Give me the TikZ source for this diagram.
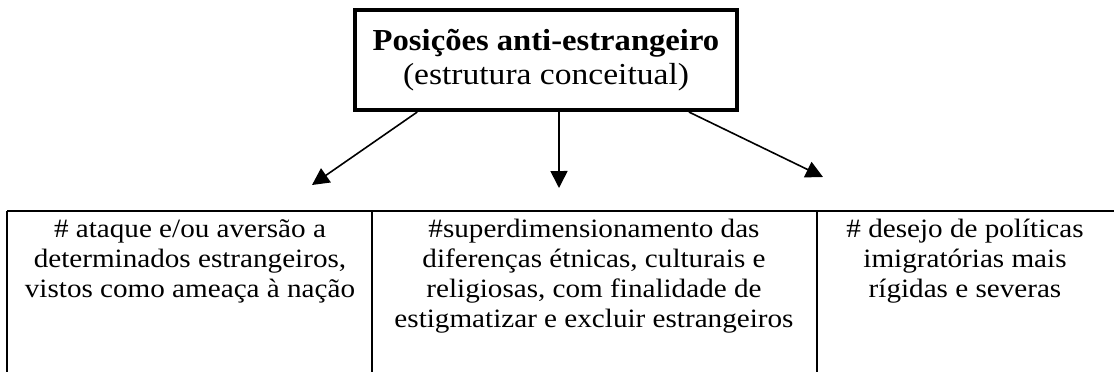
\documentclass[tikz,border=0pt]{standalone}
\usepackage{fontspec}
\setmainfont{Liberation Serif}[FakeStretch=1.1, BoldFeatures={FakeStretch=1.07}]
\usepackage{tikz}
\usetikzlibrary{shapes, arrows.meta}
\tikzstyle{titlebox} = [rectangle, draw, line width=4pt, minimum width=382pt, minimum height=100pt, align=center, inner sep=0pt, font=\fontsize{30.5}{34}\selectfont]
\tikzstyle{cell} = [align=center, inner sep=0pt, anchor=north]
\tikzstyle{line} = [draw, line width=1.6pt, -{Triangle[length=17pt, width=17pt]}]
\tikzstyle{rule} = [draw, line width=2.2pt]

\begin{document}
\begin{tikzpicture}[x=1pt, y=-1pt, font=\fontsize{26.5}{30}\selectfont]
    \useasboundingbox (0,0) rectangle (1114,372);

    \node[titlebox](top) at (546,60){\textbf{Posições anti-estrangeiro}\\(estrutura conceitual)};

    \coordinate (leftend) at (312,185);
    \coordinate (centerend) at (559,188);
    \coordinate (rightend) at (823,177);

    \path[line] (top.202.8) -- (leftend);
    \path[line] (top.284.6) -- (centerend);
    \path[line] (top.340.9) -- (rightend);

    % table (cut at right and bottom)
    \path[rule] (7,211) -- (1114,211);
    \path[rule] (7,211) -- (7,372);
    \path[rule] (372,211) -- (372,372);
    \path[rule] (817,211) -- (817,372);

    \node[cell](left) at (190,219){\# ataque e/ou aversão a\\determinados estrangeiros,\\vistos como ameaça à nação};
    \node[cell](center) at (594,219){\#superdimensionamento das\\diferenças étnicas, culturais e\\religiosas, com finalidade de\\estigmatizar e excluir estrangeiros};
    \node[cell](right) at (965,219){\# desejo de políticas\\imigratórias mais\\rígidas e severas};
\end{tikzpicture}
\end{document}
